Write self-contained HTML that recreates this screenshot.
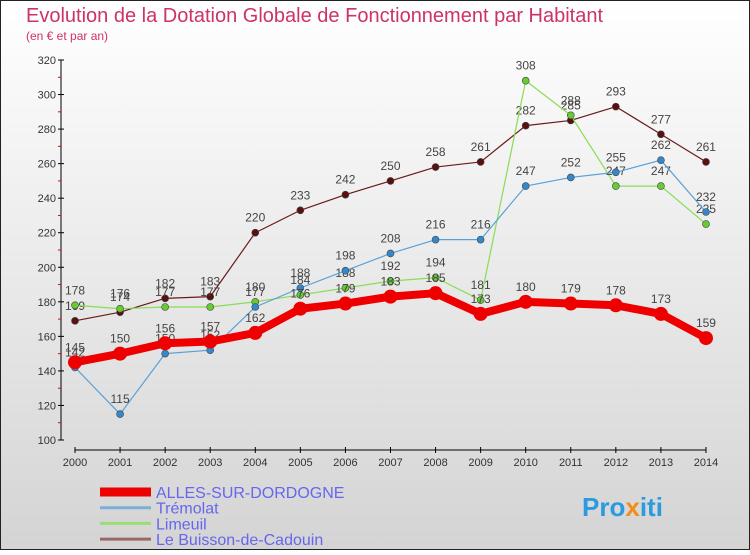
<!DOCTYPE html>
<html><head><meta charset="utf-8"><style>
body{margin:0}
svg text{font-family:"Liberation Sans",sans-serif}
</style></head><body>
<svg id="c" width="750" height="550" xmlns="http://www.w3.org/2000/svg">
<defs><linearGradient id="bg" x1="0" y1="0" x2="0" y2="1"><stop offset="0" stop-color="#ffffff"/><stop offset="1" stop-color="#d4d4d4"/></linearGradient></defs>
<rect x="0.5" y="0.5" width="749" height="549" fill="url(#bg)" stroke="#222"/>
<text x="26" y="22" font-size="20" fill="#cc3366">Evolution de la Dotation Globale de Fonctionnement par Habitant</text>
<text x="26" y="40" font-size="12" fill="#cc3366">(en € et par an)</text>
<g id="axes"></g><g id="series"></g><g id="legend"></g>
<text x="582" y="516" font-size="26" font-weight="bold" fill="#2a9be0">Pro<tspan fill="#f28c1b">x</tspan>iti</text>
</svg>
<script>
const years=[2000,2001,2002,2003,2004,2005,2006,2007,2008,2009,2010,2011,2012,2013,2014];
const yTicks=[100,120,140,160,180,200,220,240,260,280,300,320];
const names=["ALLES-SUR-DORDOGNE","Trémolat","Limeuil","Le Buisson-de-Cadouin"];
const alles=[145,150,156,157,162,176,179,183,185,173,180,179,178,173,159];
const tremolat=[142,115,150,152,177,188,198,208,216,216,247,252,255,262,232];
const limeuil=[178,176,177,177,180,184,188,192,194,181,308,288,247,247,225];
const buisson=[169,174,182,183,220,233,242,250,258,261,282,285,293,277,261];
const NS="http://www.w3.org/2000/svg";
const X=i=>75+i*45.07, Y=v=>440-(v-100)*380/220;
function mk(t,a,p){const e=document.createElementNS(NS,t);for(const k in a)e.setAttribute(k,a[k]);p.appendChild(e);return e;}
const ax=document.getElementById('axes');
let l=mk('line',{x1:61,y1:60,x2:61,y2:440,stroke:'#000'},ax);

yTicks.forEach(v=>{const t=mk('text',{x:56,y:Y(v)+4,'font-size':11,'text-anchor':'end',fill:'#333'},ax);t.textContent=v;

mk('line',{x1:58,y1:Y(v),x2:64,y2:Y(v),stroke:'#000'},ax);
if(v<320)mk('line',{x1:58,y1:Y(v+10),x2:61,y2:Y(v+10),stroke:'#e00'},ax);});
l=mk('line',{x1:X(0),y1:450,x2:X(14),y2:450,stroke:'#000'},ax);

years.forEach((y,i)=>{mk('line',{x1:X(i),y1:447,x2:X(i),y2:453,stroke:'#000'},ax);
const t=mk('text',{x:X(i),y:466,'font-size':11,'text-anchor':'middle',fill:'#333'},ax);t.textContent=y;
});
const S=document.getElementById('series');
const defs=[[buisson,'#6b1a1a','#5a1010',1.2,3.5],[limeuil,'#88dd55','#66cc33',1.2,3.5],[tremolat,'#5aa0d8','#3388cc',1.2,3.5],[alles,'#ee0000','#ee0000',8,7]];
const keys=['buisson','limeuil','tremolat','alles'];
defs.forEach((d,si)=>{const g=mk('g',{},S);
mk('polyline',{points:d[0].map((v,i)=>X(i)+','+Y(v)).join(' '),fill:'none',stroke:d[1],'stroke-width':d[3],'stroke-linejoin':'round'},g);
d[0].forEach((v,i)=>{const c=mk('circle',{cx:X(i),cy:Y(v),r:d[4],fill:d[2],stroke:'#444','stroke-width':si==3?0:0.6},g);

const t=mk('text',{x:X(i),y:Y(v)-11,'font-size':12,'text-anchor':'middle',fill:'#444'},g);t.textContent=v;
});});
const L=document.getElementById('legend');
const lc=['#ee0000','#7ab0d8','#99dd77','#9a6666'],lw=[9,3,3,3];
names.forEach((n,i)=>{const yy=492+i*15.7;const g=mk('g',{},L);
mk('line',{x1:100,y1:yy,x2:151,y2:yy,stroke:lc[i],'stroke-width':lw[i]},g);
const t=mk('text',{x:156,y:yy+6,'font-size':16,fill:'#6666ee'},g);t.textContent=n;});
</script>
</body></html>
